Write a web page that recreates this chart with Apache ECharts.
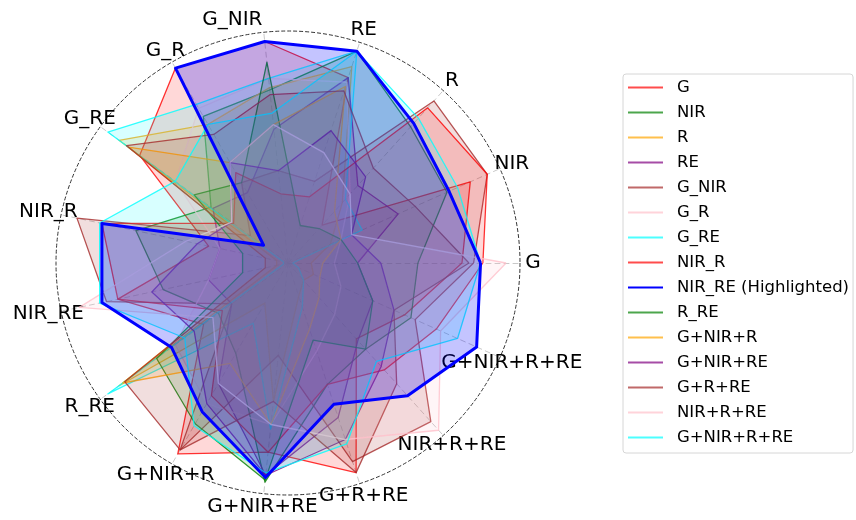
<!DOCTYPE html>
<html>
<head>
<meta charset="utf-8">
<script src="https://cdn.jsdelivr.net/npm/echarts@6/dist/echarts.min.js"></script>
<style>
html, body { margin: 0; padding: 0; background: #fff; }
#chart { width: 856px; height: 520px; }
</style>
</head>
<body>
<div id="chart"></div>
<script>
// axes, counter-clockwise from the right
var axes = ['G', 'NIR', 'R', 'RE', 'G_NIR', 'G_R', 'G_RE', 'NIR_R', 'NIR_RE', 'R_RE',
	'G+NIR+R', 'G+NIR+RE', 'G+R+RE', 'NIR+R+RE', 'G+NIR+R+RE'];

var names = ['G', 'NIR', 'R', 'RE', 'G_NIR', 'G_R', 'G_RE', 'NIR_R', 'NIR_RE', 'R_RE',
	'G+NIR+R', 'G+NIR+RE', 'G+R+RE', 'NIR+R+RE', 'G+NIR+R+RE'];
var highlighted = 'NIR_RE';

var colors = ['#ff0000', '#008000', '#ffa500', '#800080', '#a52a2a', '#ffc0cb', '#00ffff',
	'#ff0000', '#0000ff', '#008000', '#ffa500', '#800080', '#a52a2a', '#ffc0cb', '#00ffff'];

var valG        = [0.75, 0.86, 0.22, 0.84, 0.96, 0.97, 0.79, 0.35, 0.75, 0.45, 0.95, 0.82, 0.95, 0.44, 0.55];
var valNIR      = [0.56, 0.75, 0.79, 0.96, 0.75, 0.73, 0.41, 0.67, 0.55, 0.37, 0.45, 0.95, 0.55, 0.50, 0.58];
var valR        = [0.10, 0.20, 0.35, 0.89, 0.76, 0.69, 0.90, 0.05, 0.05, 0.90, 0.20, 0.60, 0.15, 0.10, 0.12];
var valRE       = [0.30, 0.52, 0.45, 0.84, 0.58, 0.35, 0.40, 0.30, 0.35, 0.30, 0.60, 0.92, 0.70, 0.45, 0.40];
var valG_NIR    = [0.80, 0.94, 0.94, 0.37, 0.40, 0.40, 0.20, 0.93, 0.80, 0.30, 0.93, 0.40, 0.90, 0.92, 0.60];
var valG_R      = [0.20, 0.25, 0.40, 0.82, 0.80, 0.77, 0.60, 0.30, 0.35, 0.60, 0.70, 0.70, 0.40, 0.30, 0.25];
var valG_RE     = [0.02, 0.35, 0.37, 0.96, 0.80, 0.79, 0.96, 0.02, 0.02, 0.96, 0.30, 0.72, 0.20, 0.10, 0.05];
var valNIR_R    = [0.84, 0.94, 0.90, 0.30, 0.30, 0.45, 0.29, 0.82, 0.75, 0.35, 0.66, 0.82, 0.55, 0.62, 0.70];
var valNIR_RE   = [0.83, 0.76, 0.81, 0.96, 0.96, 0.97, 0.13, 0.82, 0.82, 0.62, 0.74, 0.93, 0.64, 0.77, 0.89];
var valR_RE     = [0.30, 0.25, 0.20, 0.17, 0.87, 0.40, 0.50, 0.20, 0.20, 0.70, 0.80, 0.94, 0.35, 0.50, 0.40];
var valGNIRR    = [0.15, 0.25, 0.30, 0.80, 0.60, 0.50, 0.85, 0.10, 0.10, 0.88, 0.50, 0.70, 0.30, 0.20, 0.15];
var valGNIRRE   = [0.40, 0.30, 0.50, 0.60, 0.40, 0.50, 0.30, 0.40, 0.60, 0.50, 0.70, 0.92, 0.80, 0.60, 0.50];
var valGRRE     = [0.78, 0.60, 0.55, 0.78, 0.73, 0.64, 0.86, 0.10, 0.10, 0.87, 0.93, 0.60, 0.95, 0.70, 0.50];
var valNIRRRE   = [0.94, 0.30, 0.40, 0.50, 0.60, 0.50, 0.30, 0.45, 0.92, 0.40, 0.60, 0.70, 0.80, 0.97, 0.72];
var valGNIRRRE  = [0.83, 0.80, 0.84, 0.96, 0.65, 0.69, 0.60, 0.83, 0.83, 0.55, 0.81, 0.91, 0.82, 0.57, 0.80];

var values = [valG, valNIR, valR, valRE, valG_NIR, valG_R, valG_RE, valNIR_R, valNIR_RE, valR_RE,
	valGNIRR, valGNIRRE, valGRRE, valNIRRRE, valGNIRRRE];

function rgba(hex, a) {
	var n = parseInt(hex.slice(1), 16);
	return 'rgba(' + (n >> 16) + ',' + ((n >> 8) & 255) + ',' + (n & 255) + ',' + a + ')';
}

var series = [];
var legendData = [];
for (var i = 0; i < names.length; i++) {
	var hi = names[i] === highlighted;
	var label = hi ? names[i] + ' (Highlighted)' : names[i];
	legendData.push(label);
	series.push({
		type: 'radar',
		name: label,
		symbol: 'none',
		z: hi ? 5 : 2,
		itemStyle: { color: hi ? colors[i] : rgba(colors[i], 0.7) },
		lineStyle: { color: hi ? colors[i] : rgba(colors[i], 0.8), width: hi ? 3 : 1.3 },
		areaStyle: { color: rgba(colors[i], hi ? 0.33 : 0.22) },
		data: [{ name: label, value: values[i] }]
	});
}

var chart = echarts.init(document.getElementById('chart'));
chart.setOption({
	animation: false,
	legend: {
		orient: 'vertical',
		left: 623,
		top: 74,
		data: legendData,
		icon: 'rect',
		itemWidth: 35,
		itemHeight: 2,
		itemGap: 8,
		padding: [5, 4, 7, 5],
		borderColor: '#d6d6d6',
		borderWidth: 1,
		borderRadius: 3,
		textStyle: {
			fontFamily: 'DejaVu Sans',
			fontSize: 16.5,
			lineHeight: 17,
			color: '#000',
			padding: [0, 0, 0, 9]
		}
	},
	radar: {
		center: [288, 263],
		radius: 232,
		startAngle: 0,
		shape: 'circle',
		splitNumber: 1,
		indicator: axes.map(function(a) { return { name: a, min: 0, max: 1 }; }),
		nameGap: 13,
		axisName: {
			color: '#000',
			fontFamily: 'DejaVu Sans',
			fontSize: 20,
			align: 'center',
			verticalAlign: 'middle',
			// the top label sits a little left of its spoke in the original
			formatter: function(name) {
				return name === 'G_NIR' ? '{shift|' + name + '}' : name;
			},
			rich: {
				shift: { fontFamily: 'DejaVu Sans', fontSize: 20, color: '#000', padding: [0, 60, 0, 0] }
			}
		},
		axisLine: {
			lineStyle: { color: '#c8c8c8', type: [5, 4], width: 1 }
		},
		splitLine: {
			lineStyle: { color: '#333', type: [4, 2], width: 1 }
		},
		splitArea: { show: false }
	},
	series: series
});
</script>
</body>
</html>
